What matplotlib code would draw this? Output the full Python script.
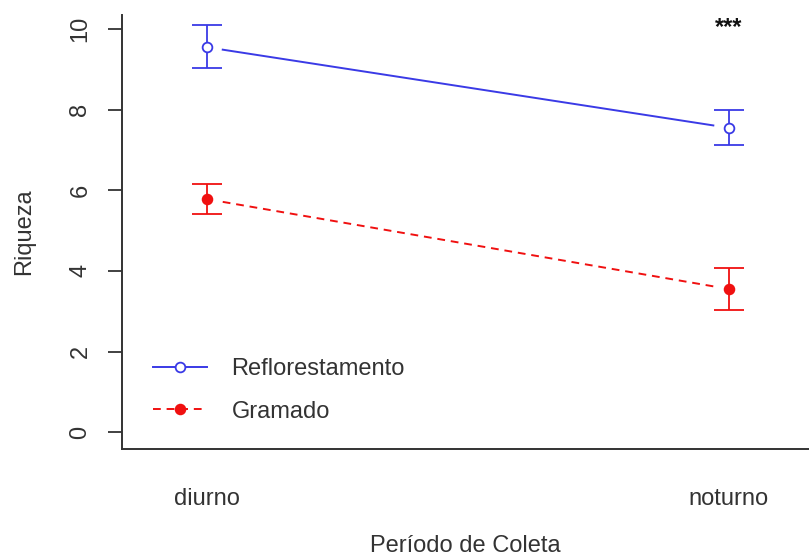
import matplotlib.pyplot as plt
import numpy as np

plt.rcParams['font.family'] = ['Liberation Sans', 'DejaVu Sans']

periodos = ["diurno", "noturno"]
refl_media = [9.55, 7.55]
refl_sup = [10.1, 8.0]
refl_inf = [9.03, 7.13]
gram_media = [5.78, 3.55]
gram_sup = [6.15, 4.07]
gram_inf = [5.4, 3.02]

azul = "#3a3ae6"
vermelho = "#f01010"
texto = "#333333"

fig = plt.figure(figsize=(8.09, 5.58), dpi=100)
ax = fig.add_axes([0.1508, 0.1953, 0.849, 0.7778])

x = np.arange(1, len(periodos) + 1)


def serie(ax, media, sup, inf, cor, ls, face, label):
    media = np.array(media)
    yerr = [media - np.array(inf), np.array(sup) - media]
    ax.errorbar(x, media, yerr=yerr, fmt="none", ecolor=cor, elinewidth=1.3,
                capsize=11, capthick=1.3)
    # linha com pequenas folgas junto aos pontos (estilo type="b")
    t = np.array([0.03, 0.97])
    xs = x[0] + t * (x[1] - x[0])
    ys = media[0] + t * (media[1] - media[0])
    ax.plot(xs, ys, color=cor, ls=ls, lw=1.4)
    ax.plot(x, media, ls="none", marker="o", ms=7, mfc=face, mec=cor, mew=1.3)
    return ax.plot([], [], color=cor, ls=ls, lw=1.4, marker="o", ms=7,
                   mfc=face, mec=cor, mew=1.3, label=label)


serie(ax, refl_media, refl_sup, refl_inf, azul, "-", "white", "Reflorestamento")
serie(ax, gram_media, gram_sup, gram_inf, vermelho, (0, (4, 3)), vermelho, "Gramado")

ax.text(x[1], 10.05, "***", ha="center", va="center", fontsize=17,
        fontweight="bold", color="#111111")

ax.set_xlim(0.837, 2.153)
ax.set_ylim(-0.42, 10.35)
ax.set_yticks([0, 2, 4, 6, 8, 10])
ax.set_xticks(x)
ax.set_xticklabels(periodos)

for s in ["top", "right"]:
    ax.spines[s].set_visible(False)
for s in ["left", "bottom"]:
    ax.spines[s].set_color(texto)
    ax.spines[s].set_linewidth(1.4)

ax.tick_params(axis="y", length=10, width=1.3, color=texto, pad=12,
               labelsize=17, labelcolor=texto)
for lab in ax.get_yticklabels():
    lab.set_rotation(90)
    lab.set_va("center")
ax.tick_params(axis="x", length=0, pad=28, labelsize=17, labelcolor=texto)

ax.set_ylabel("Riqueza", fontsize=17, color=texto, labelpad=25)
ax.set_xlabel("Período de Coleta", fontsize=17, color=texto, labelpad=18)

ax.legend(loc="lower left", bbox_to_anchor=(0.0135, 0.012), frameon=False,
          fontsize=17, handlelength=2.3, handletextpad=1.05, labelspacing=0.88,
          labelcolor=texto)

fig.savefig("out.png", dpi=100)
